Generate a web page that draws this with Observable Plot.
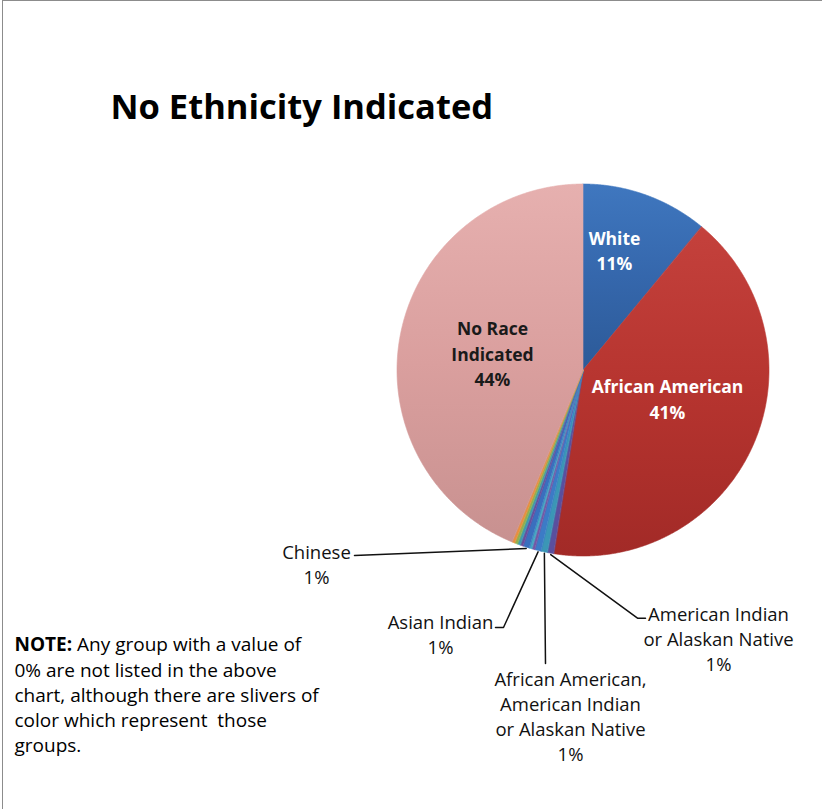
<!DOCTYPE html>
<html><head><meta charset="utf-8">
<script src="https://cdn.jsdelivr.net/npm/d3@7"></script>
<script src="https://cdn.jsdelivr.net/npm/@observablehq/plot@0.6"></script>
<style>
html,body{margin:0;padding:0;background:#fff;}
#wrap{position:relative;width:822px;height:809px;overflow:hidden;}
#frame{position:absolute;left:2px;top:0;width:900px;height:900px;border-left:1.5px solid #8c8c8c;border-top:1.5px solid #8c8c8c;}
#chart{position:absolute;left:0;top:0;}
</style></head><body><div id="wrap"><div id="frame"></div><div id="chart"></div></div>
<script>
// ---- data (clockwise from 12 o'clock) ----
const categories = [
  "White",
  "African American",
  "American Indian or Alaskan Native",
  "African American, American Indian or Alaskan Native",
  "Asian Indian",
  "Unlisted group 1",
  "Unlisted group 2",
  "Chinese",
  "Unlisted group 3",
  "Unlisted group 4",
  "Unlisted group 5",
  "Unlisted group 6",
  "No Race Indicated"
];
const values = [11.0, 41.45, 0.55, 0.55, 0.55, 0.25, 0.25, 0.55, 0.25, 0.25, 0.25, 0.25, 43.7];
const sliceColors = ["url(#gWhite)", "url(#gAA)", "#5A4F9E", "#3B96B6", "#3C7BC6", "#7656A4", "#45A6C3", "#3A6FBE", "#6B4C9C", "#3C9AB0", "#8DB151", "#E98F3C", "url(#gNR)"];
// display names (line-broken) for the labelled slices
const insideNames = {"White": "White", "African American": "African American", "No Race Indicated": "No Race\nIndicated"};
const outsideNames = {
  "Chinese": "Chinese",
  "Asian Indian": "Asian Indian",
  "African American, American Indian or Alaskan Native": "African American,\nAmerican Indian\nor Alaskan Native",
  "American Indian or Alaskan Native": "American Indian\nor Alaskan Native"
};
const titleText = "No Ethnicity Indicated";
const noteBold = "NOTE:";
const noteFirst = " Any group with a value of";
const noteRest = "0% are not listed in the above\nchart, although there are slivers of\ncolor which represent  those\ngroups.";

// ---- layout ----
const W = 822, H = 809, cx = 583, cy = 370, R = 186;
const insidePos = {"White": [614, 248.7], "African American": [667, 397.5], "No Race Indicated": [492, 352]};
const outsidePos = {
  "Chinese": [316, 562.6],
  "Asian Indian": [440, 633.1],
  "African American, American Indian or Alaskan Native": [570, 715],
  "American Indian or Alaskan Native": [718, 637.5]
};
const leaderStart = {
  "Chinese": [[354, 555]],
  "Asian Indian": [[495, 627], [503, 627]],
  "African American, American Indian or Alaskan Native": [[545, 663]],
  "American Indian or Alaskan Native": [[645, 617.7], [637, 617.7]]
};

const rows = categories.map((name, i) => ({name, value: values[i], fill: sliceColors[i]}));
const arcs = d3.pie().sort(null).value(d => d.value)(rows);
const polar = (t, r) => [cx + r * Math.sin(t), cy - r * Math.cos(t)];

const piePts = arcs.flatMap(a => {
  const n = Math.max(2, Math.ceil((a.endAngle - a.startAngle) / 0.005));
  return d3.range(n + 1).map(i => {
    const t = a.startAngle + (a.endAngle - a.startAngle) * i / n;
    const [x, y] = polar(t, R);
    return {name: a.data.name, fill: a.data.fill, x, y};
  });
});

const pct = v => Math.round(v) + "%";
const insideLabels = arcs.filter(a => a.data.name in insideNames).map(a => ({
  x: insidePos[a.data.name][0], y: insidePos[a.data.name][1],
  text: insideNames[a.data.name] + "\n" + pct(a.data.value),
  dark: a.data.name === "No Race Indicated"
}));
const outsideLabels = arcs.filter(a => a.data.name in outsideNames).map(a => ({
  x: outsidePos[a.data.name][0], y: outsidePos[a.data.name][1],
  text: outsideNames[a.data.name] + "\n" + pct(a.data.value)
}));
const leaders = arcs.filter(a => a.data.name in leaderStart).flatMap(a => {
  const mid = (a.startAngle + a.endAngle) / 2;
  const [ax, ay] = polar(mid, R + 1);
  return [...leaderStart[a.data.name], [ax, ay]].map(([x, y]) => ({name: a.data.name, x, y}));
});

const FONT = "Open Sans";
// measure bold NOTE: width
const ctx = document.createElement("canvas").getContext("2d");
ctx.font = `bold 19px "${FONT}"`;
const noteBoldW = ctx.measureText(noteBold).width;

const chart = Plot.plot({
  width: W, height: H, margin: 0,
  x: {domain: [0, W], range: [0, W], axis: null},
  y: {domain: [0, H], range: [0, H], axis: null},
  color: {type: "identity"},
  style: {fontFamily: `"${FONT}"`, background: "transparent", overflow: "visible"},
  marks: [
    Plot.area(piePts, {x1: "x", y1: "y", x2: cx, y2: cy, z: "name", fill: "fill", stroke: "fill", strokeWidth: 0.6}),
    Plot.line(leaders, {x: "x", y: "y", z: "name", stroke: "#111", strokeWidth: 1.5}),
    Plot.text(insideLabels, {x: "x", y: "y", text: "text", fill: d => d.dark ? "#1a1a1a" : "#ffffff", fontSize: 17.5, fontWeight: "bold", lineHeight: 1.46, textAnchor: "middle"}),
    Plot.text(outsideLabels, {x: "x", y: "y", text: "text", fill: "#111", fontSize: 18.5, lineHeight: 1.35, textAnchor: "middle"}),
    Plot.text([titleText], {x: 110, y: 107.4, text: d => d, fontSize: 34.5, fontWeight: "bold", fill: "#000", textAnchor: "start"}),
    Plot.text([noteBold], {x: 14, y: 644.6, text: d => d, fontSize: 19, fontWeight: "bold", fill: "#000", textAnchor: "start"}),
    Plot.text([noteFirst], {x: 14 + noteBoldW, y: 644.6, text: d => d, fontSize: 19, fill: "#000", textAnchor: "start"}),
    Plot.text([noteRest], {x: 14, y: 706.4, text: d => d, fontSize: 19, lineHeight: 1.316, fill: "#000", textAnchor: "start"})
  ]
});

const defs = d3.select(chart).insert("defs", ":first-child");
const grads = [
  ["gWhite", ["#3F77BF", "#3567AC", "#2C5A98"]],
  ["gAA", ["#C4413C", "#B6342F", "#A22A27"]],
  ["gNR", ["#E6B0AF", "#DA9F9E", "#C89190"]]
];
for (const [id, stops] of grads) {
  const g = defs.append("linearGradient").attr("id", id).attr("x1", 0).attr("y1", 0).attr("x2", 0).attr("y2", 1);
  stops.forEach((c, i) => g.append("stop").attr("offset", i / (stops.length - 1)).attr("stop-color", c));
}
document.getElementById("chart").appendChild(chart);
</script>
</body></html>
